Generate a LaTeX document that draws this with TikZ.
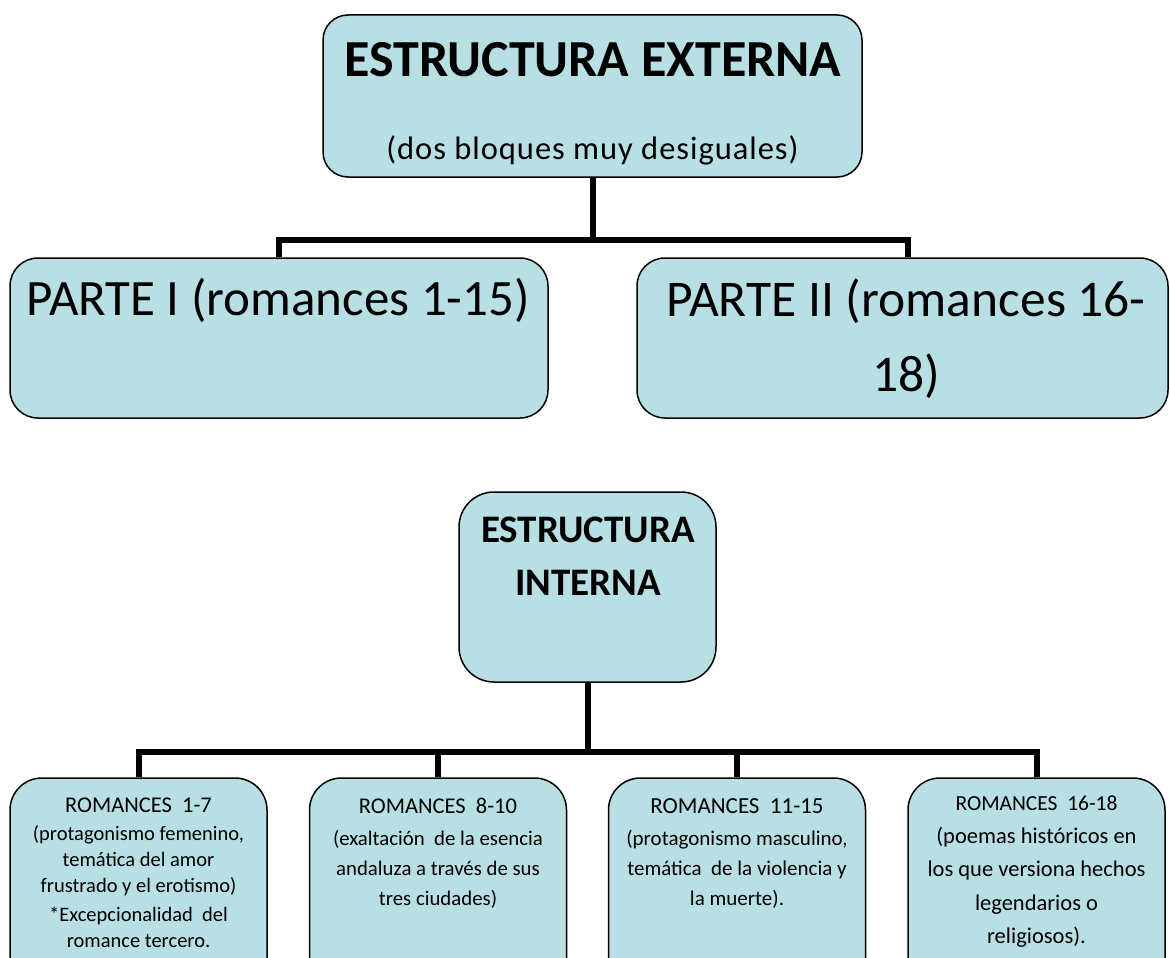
\documentclass[tikz,border=0pt]{standalone}
\usepackage{fontspec}
\setmainfont{Carlito}
\definecolor{boxblue}{HTML}{B8DFE3}
\newcommand{\spc}[2]{{\addfontfeature{LetterSpace=#1}#2}}
\newcommand{\hdr}[2]{{\fontsize{#1}{#1}\selectfont #2}}
\begin{document}
\begin{tikzpicture}[x=1pt,y=-1pt,
  box/.style={draw=black, line width=1.5pt, fill=boxblue, inner sep=0pt},
  conn/.style={draw=black, line width=6pt},
  txt/.style={inner sep=0pt, align=center, text=black}]
\useasboundingbox (0,0) rectangle (1170,958);
\clip (0,0) rectangle (1170,958);
% boxes
\node[box, rounded corners=25pt, minimum width=539pt, minimum height=162pt] (ext) at (592.5,96) {};
\node[box, rounded corners=28pt, minimum width=538pt, minimum height=160pt] (p1) at (279,338) {};
\node[box, rounded corners=28pt, minimum width=531pt, minimum height=160pt] (p2) at (902.5,338) {};
\node[box, rounded corners=35pt, minimum width=257pt, minimum height=190pt] (int) at (587.5,587) {};
\node[box, rounded corners=32pt, minimum width=257pt, minimum height=222pt] (b1) at (138.5,889) {};
\node[box, rounded corners=32pt, minimum width=257pt, minimum height=222pt] (b2) at (438,889) {};
\node[box, rounded corners=32pt, minimum width=257pt, minimum height=222pt] (b3) at (737,889) {};
\node[box, rounded corners=32pt, minimum width=257pt, minimum height=222pt] (b4) at (1036.5,889) {};
% connectors
\coordinate (busA) at (592.5,240);
\coordinate (busB) at (587.5,752);
\draw[conn] (ext.south) -- (busA) -| (p1.north);
\draw[conn] (busA) -| ([xshift=5pt]p2.north);
\draw[conn] (int.south) -- (busB) -| (b1.north);
\draw[conn] (busB) -| (b4.north);
\draw[conn] (b2.north) -- (b2.north |- busB);
\draw[conn] (b3.north) -- (b3.north |- busB);
% texts
\node[txt, font=\bfseries\fontsize{52}{56}\selectfont] (t1) at (593,60) {ESTRUCTURA EXTERNA};
\node[txt, font=\fontsize{32.5}{36}\selectfont] (t2) at (592.5,150) {\spc{3}{(dos bloques muy desiguales)}};
\node[txt, font=\fontsize{51}{55}\selectfont] (t3) at (278,300) {PARTE I (romances 1-15)};
\node[txt, font=\fontsize{51.5}{75}\selectfont, anchor=north] (t4) at (906,279) {PARTE II (romances 16-\\18)};
\node[txt, font=\bfseries\fontsize{39}{53}\selectfont, anchor=north] (t5) at (588,517) {ESTRUCTURA\\INTERNA};
\node[txt, font=\fontsize{20.5}{26}\selectfont, anchor=north] (t6) at (138.5,798) {\hdr{22.5}{ROMANCES\ \ 1-7}\\[2pt](protagonismo femenino,\\temática del amor\\frustrado y el erotismo)\\[3pt]*Excepcionalidad\ \ del\\romance tercero.};
\node[txt, font=\fontsize{20.8}{30}\selectfont, anchor=north] (t7) at (438,798) {\hdr{22.5}{ROMANCES\ \ 8-10}\\[2pt](exaltación\ \ de la esencia\\andaluza a través de sus\\tres ciudades)};
\node[txt, font=\fontsize{21}{30}\selectfont, anchor=north] (t8) at (737,798) {\hdr{23}{ROMANCES\ \ 11-15}\\[2pt](protagonismo masculino,\\temática\ \ de la violencia y\\la muerte).};
\node[txt, font=\fontsize{22.5}{33}\selectfont, anchor=north] (t9) at (1036.5,796) {\hdr{21.5}{ROMANCES\ \ 16-18}\\(poemas históricos en\\los que versiona hechos\\[1pt]legendarios o\\religiosos).};
\end{tikzpicture}
\end{document}
